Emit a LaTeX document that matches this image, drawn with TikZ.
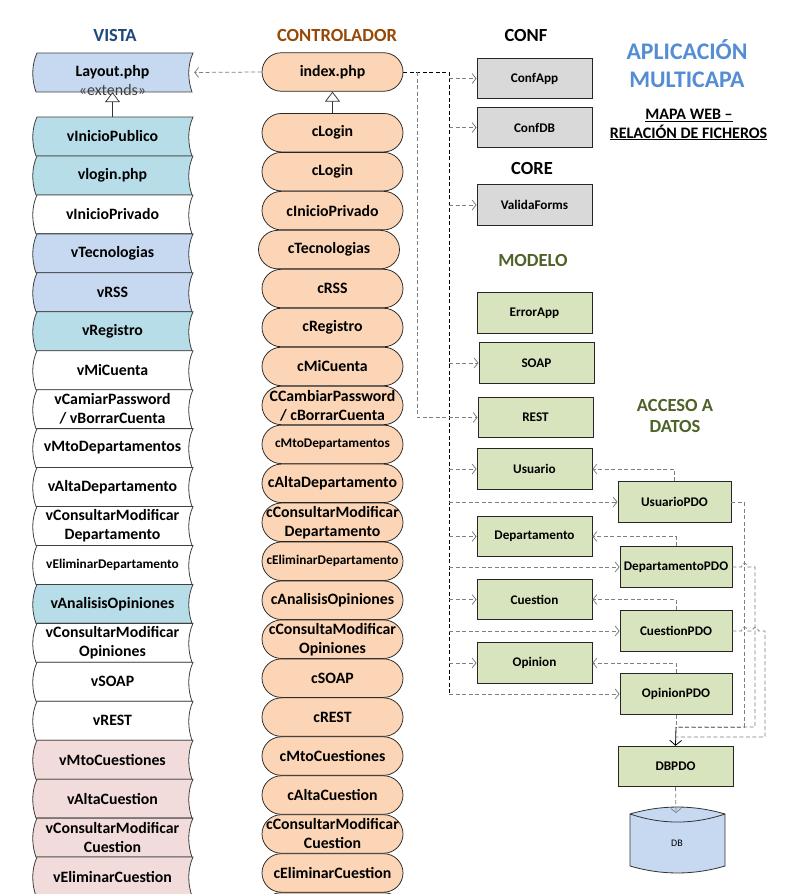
\documentclass[tikz,border=0pt]{standalone}
\usepackage{fontspec}
\setmainfont{Carlito}
\usetikzlibrary{arrows.meta}

\definecolor{vblue}{HTML}{C6D9F1}
\definecolor{vteal}{HTML}{B7DEE8}
\definecolor{vpink}{HTML}{F2DCDB}
\definecolor{cpeach}{HTML}{FBD5B5}
\definecolor{mgreen}{HTML}{D7E4BD}
\definecolor{cgrey}{HTML}{D9D9D9}
\definecolor{tvista}{HTML}{1F497D}
\definecolor{tctrl}{HTML}{974806}
\definecolor{tolive}{HTML}{4F6228}
\definecolor{tapp}{HTML}{548DD4}
\definecolor{dashgrey}{HTML}{7F7F7F}

\newcommand{\vtapeshape}[2]{%
  \pgfmathsetmacro{\vtT}{#1}%
  \pgfmathsetmacro{\vtB}{#1+38.95}%
  \filldraw[draw=black!75, line width=0.8pt, fill=#2]
    (37,\vtT) .. controls (31,\vtT+13) and (32,\vtB-11) .. (36,\vtB)
    -- (192,\vtB) .. controls (188,\vtB-11) and (187,\vtT+13) .. (193,\vtT) -- cycle;}

\newcommand{\vitem}[5][]{%
  \pgfmathsetmacro{\vtTop}{117+38.95*#3}%
  \pgfmathsetmacro{\vtCen}{\vtTop+19.475}%
  \vtapeshape{\vtTop}{#4}%
  \node[vnode,#1] (#2) at (112.5,\vtCen) {#5};}

\newcommand{\citem}[4][]{%
  \pgfmathsetmacro{\ctCen}{132.7+38.96*#3}%
  \node[ctrl,#1] (#2) at (332.5,\ctCen) {#4};}

\begin{document}
\begin{tikzpicture}[x=1pt,y=-1pt,
  lbl/.style={font=\fontsize{15.8}{19}\selectfont\bfseries, align=center, inner sep=0pt},
  sml/.style={font=\fontsize{13.3}{15}\selectfont\bfseries},
  vnode/.style={lbl, minimum width=157pt, minimum height=38.95pt},
  ctrl/.style={lbl, draw=black!85, line width=0.75pt, fill=cpeach, rounded corners=19.25pt, minimum width=141pt, minimum height=38.5pt},
  rbox/.style={draw=black!85, line width=0.9pt, minimum width=115pt, minimum height=40.5pt, inner sep=0pt, font=\fontsize{13.2}{15}\selectfont\bfseries},
  gbox/.style={rbox, fill=mgreen},
  kbox/.style={rbox, fill=cgrey},
  ttl/.style={font=\fontsize{18.5}{21}\selectfont\bfseries, inner sep=0pt, anchor=base},
  dep/.style={draw=dashgrey, dash pattern=on 4pt off 2.5pt, line width=0.75pt},
  deparrow/.style={dep, -{Straight Barb[length=4pt,width=10pt]}},
  blkdash/.style={draw=black, dash pattern=on 4pt off 2.5pt, line width=0.75pt},
  inh/.style={draw=black!80, line width=0.75pt, -{Triangle[open,fill=white,length=10pt,width=15pt]}},
  ext/.style={font=\fontsize{16}{18}\selectfont, text=black!75, inner sep=0pt}
]
\useasboundingbox (0,0) rectangle (791,894);
\fill[white] (0,0) rectangle (791,894);
\clip (0,0) rectangle (791,894);

% ---------- titles ----------
\node[ttl, text=tvista] (tvista) at (115,41) {VISTA};
\node[ttl, text=tctrl] (tctrl) at (337,41) {CONTROLADOR};
\node[ttl] (tconf) at (526,41) {CONF};
\node[ttl] (tcore) at (532,174) {CORE};
\node[ttl, text=tolive] (tmodelo) at (533,266) {MODELO};
\node[ttl, text=tolive] (tacceso1) at (675,411) {ACCESO A};
\node[ttl, text=tolive] (tacceso2) at (675,432) {DATOS};
\node[ttl, font=\fontsize{23.8}{27}\selectfont\bfseries, text=tapp] (tapp1) at (687,59) {APLICACIÓN};
\node[ttl, font=\fontsize{23.8}{27}\selectfont\bfseries, text=tapp] (tapp2) at (687,87) {MULTICAPA};
\node[ttl, font=\fontsize{16}{18}\selectfont\bfseries] (tmapa1) at (689,119.5) {\underline{MAPA WEB –}};
\node[ttl, font=\fontsize{16}{18}\selectfont\bfseries] (tmapa2) at (688.5,138) {\underline{RELACIÓN DE FICHEROS}};

% ---------- VISTA ----------
\vtapeshape{53}{vblue}
\node[vnode] (layout) at (112.5,72.5) {Layout.php};
\node[ext] (extv) at (112.5,90.5) {«extends»};

\vitem{v0}{0}{vteal}{vInicioPublico}
\vitem{v1}{1}{vteal}{vlogin.php}
\vitem{v2}{2}{white}{vInicioPrivado}
\vitem{v3}{3}{vblue}{vTecnologias}
\vitem{v4}{4}{vblue}{vRSS}
\vitem{v5}{5}{vteal}{vRegistro}
\vitem{v6}{6}{white}{vMiCuenta}
\vitem{v7}{7}{white}{vCamiarPassword\\/ vBorrarCuenta}
\vitem{v8}{8}{white}{vMtoDepartamentos}
\vitem{v9}{9}{white}{vAltaDepartamento}
\vitem{v10}{10}{white}{vConsultarModificar\\Departamento}
\vitem[sml]{v11}{11}{white}{vEliminarDepartamento}
\vitem{v12}{12}{vteal}{vAnalisisOpiniones}
\vitem{v13}{13}{white}{vConsultarModificar\\Opiniones}
\vitem{v14}{14}{white}{vSOAP}
\vitem{v15}{15}{white}{vREST}
\vitem{v16}{16}{vpink}{vMtoCuestiones}
\vitem{v17}{17}{vpink}{vAltaCuestion}
\vitem{v18}{18}{vpink}{vConsultarModificar\\Cuestion}
\vitem{v19}{19}{vpink}{vEliminarCuestion}

\draw[inh] (v0.north) -- (layout.south);

% ---------- CONTROLADOR ----------
\node[ext] (extc) at (332.5,86.5) {«extends»};
\node[ctrl] (index) at (332.5,72) {index.php};

\citem{c0}{0}{cLogin}
\citem{c1}{1}{cLogin}
\citem{c2}{2}{cInicioPrivado}
\citem[xshift=-3.5pt]{c3}{3}{cTecnologias}
\citem{c4}{4}{cRSS}
\citem{c5}{5}{cRegistro}
\citem{c6}{6}{cMiCuenta}
\citem{c7}{7}{CCambiarPassword\\/ cBorrarCuenta}
\citem[sml]{c8}{8}{cMtoDepartamentos}
\citem{c9}{9}{cAltaDepartamento}
\citem{c10}{10}{cConsultarModificar\\Departamento}
\citem[sml]{c11}{11}{cEliminarDepartamento}
\citem{c12}{12}{cAnalisisOpiniones}
\citem{c13}{13}{cConsultaModificar\\Opiniones}
\citem{c14}{14}{cSOAP}
\citem{c15}{15}{cREST}
\citem{c16}{16}{cMtoCuestiones}
\citem{c17}{17}{cAltaCuestion}
\citem{c18}{18}{cConsultarModificar\\Cuestion}
\citem{c19}{19}{cEliminarCuestion}
\citem{c20}{20}{}

\draw[inh] (c0.north) -- (index.south);
\draw[deparrow, shorten >=3pt] (index.west) -- (layout.east);

% ---------- CONF / CORE / MODELO ----------
\node[kbox] (confapp) at (534.5,78.5) {ConfApp};
\node[kbox] (confdb) at (534.5,127.5) {ConfDB};
\node[kbox] (valida) at (534.5,205) {ValidaForms};
\node[gbox] (errorapp) at (534.5,313) {ErrorApp};
\node[gbox] (soap) at (536.5,363) {SOAP};
\node[gbox] (rest) at (535.5,417.5) {REST};
\node[gbox] (usuario) at (534.5,469) {Usuario};
\node[gbox, minimum width=113pt] (upd) at (674.5,502) {UsuarioPDO};
\node[gbox] (departamento) at (534.5,536.5) {Departamento};
\node[gbox, minimum width=112pt] (dpd) at (676,567) {DepartamentoPDO};
\node[gbox] (cuestion) at (534.5,599.5) {Cuestion};
\node[gbox, minimum width=112pt] (cpd) at (676,631) {CuestionPDO};
\node[gbox] (opinion) at (534.5,663) {Opinion};
\node[gbox, minimum width=112pt] (opd) at (676,694) {OpinionPDO};
\node[gbox] (dbpdo) at (675.5,766.5) {DBPDO};

% ---------- DB ----------
\filldraw[draw=black!80, line width=0.8pt, fill=vblue]
  (630,814) .. controls (661.7,804.7) and (693.3,804.7) .. (725,814)
  -- (725,866) .. controls (693.3,875.3) and (661.7,875.3) .. (630,866) -- cycle;
\draw[black!80, line width=0.8pt]
  (630,814) .. controls (661.7,824.7) and (693.3,824.7) .. (725,814);
\node[font=\fontsize{10}{12}\selectfont, inner sep=0pt] (db) at (677,843) {DB};
\coordinate (dbtop) at (676,813);

% ---------- connectors ----------
\coordinate (tr0) at (449,72);
\coordinate (tr1) at (449,694);
\coordinate (sp) at (417,72);
\draw[blkdash] (index.east) -- (tr0) -- (tr1);
\draw[deparrow] (sp) |- (rest.west);
\foreach \n in {confapp,confdb,valida,soap,usuario,upd,departamento,dpd,cuestion,cpd,opinion,opd}
  \draw[deparrow] (tr0 |- \n.west) -- (\n.west);

\foreach \p/\e in {upd/usuario,dpd/departamento,cpd/cuestion,opd/opinion}
  \draw[deparrow] (\p.north) |- (\e.east);

\coordinate (j1) at (676,727);
\coordinate (j2) at (676,737);
\coordinate (uc) at (744,727);
\coordinate (dc) at (755,727);
\coordinate (cc) at (765,737);
\draw[dep] (upd.east) -| (uc) -- (j1);
\draw[dep] (dpd.east) -- ++(9,0) .. controls +(0,-5) and +(0,-5) .. ++(6,0) -| (dc) -- (j1);
\draw[dep] (cpd.east) -- ++(9,0) .. controls +(0,-5) and +(0,-5) .. ++(6,0)
  -- ++(5,0) .. controls +(0,-5) and +(0,-5) .. ++(6,0) -| (cc) -- (j2);
\draw[dep] (opd.south) -- (j1);
\draw[black, line width=0.8pt, -{Straight Barb[length=5pt,width=12pt]}] (j1) -- (dbpdo.north);
\draw[deparrow] (dbpdo.south) -- (dbtop);
\end{tikzpicture}
\end{document}
